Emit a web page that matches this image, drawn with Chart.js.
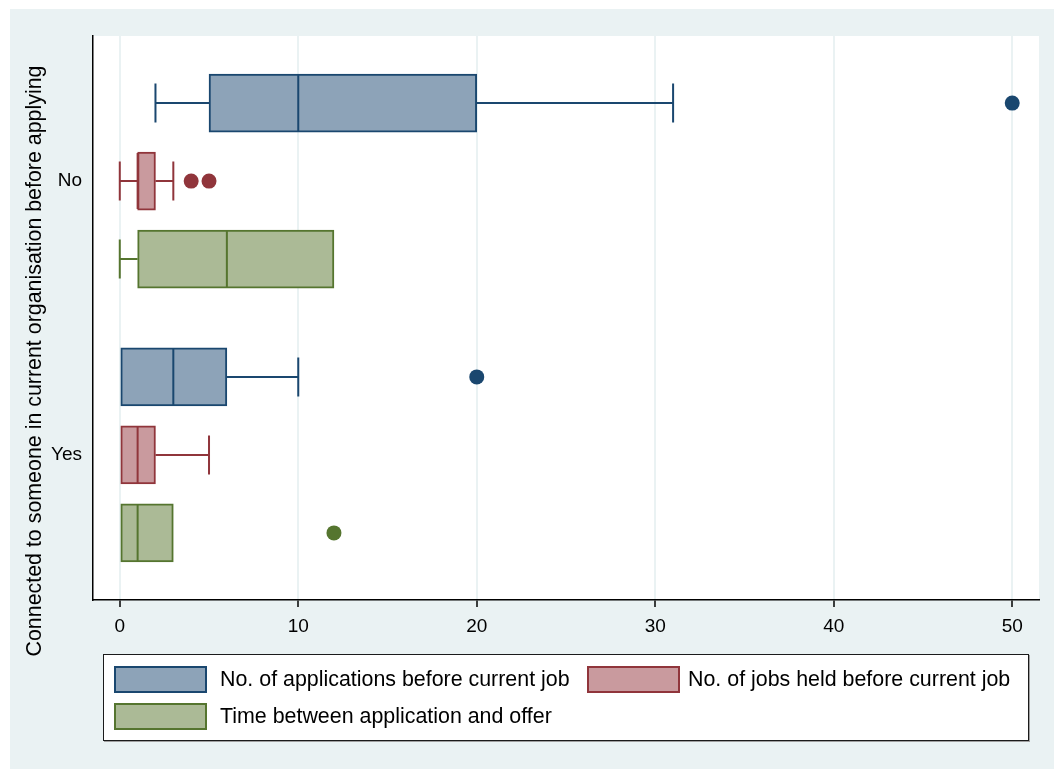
<!DOCTYPE html>
<html>
<head>
<meta charset="utf-8">
<title>Connected to someone in current organisation before applying</title>
<script src="https://cdn.jsdelivr.net/npm/chart.js@4.4.1/dist/chart.umd.min.js"></script>
<style>
  html, body { margin: 0; padding: 0; background: #ffffff; overflow: hidden; }
  #wrap { position: relative; width: 1054px; height: 769px; }
  #panel { position: absolute; left: 10px; top: 9px; right: 0; bottom: 0; background: #EAF2F3; }
  #box { position: absolute; left: 0; top: 0; width: 1054px; height: 769px; }
  #legend {
    position: absolute; left: 103px; top: 654px; width: 926px; height: 87px;
    box-sizing: border-box; background: #ffffff; border: 1.5px solid #1b1b1b;
    box-shadow: 1px 1px 0 #a0a0a0;
    font-family: 'Liberation Sans', Arial, sans-serif; font-size: 21.4px; color: #000;
  }
  .item { position: absolute; display: flex; align-items: center; height: 27px; white-space: nowrap; }
  .sw { width: 93px; height: 27px; box-sizing: border-box; border: 2px solid; flex: none; }
</style>
</head>
<body>
<div id="wrap">
  <div id="panel"></div>
  <div id="box"><canvas id="c"></canvas></div>
  <div id="legend"></div>
</div>
<script>
// Groups on the vertical axis
const groups = ['No', 'Yes'];

// Series names
const seriesLabels = [
  'No. of applications before current job',
  'No. of jobs held before current job',
  'Time between application and offer'
];

// Box-plot summaries, one value per group (No, Yes)
const appsLow      = [2, 0];
const appsQ1       = [5, 0];
const appsMedian   = [10, 3];
const appsQ3       = [20, 6];
const appsHigh     = [31, 10];
const appsOutliers = [[50], [20]];

const jobsLow      = [0, 0];
const jobsQ1       = [1, 0];
const jobsMedian   = [1, 1];
const jobsQ3       = [2, 2];
const jobsHigh     = [3, 5];
const jobsOutliers = [[4, 5], []];

const timeLow      = [0, 0];
const timeQ1       = [1, 0];
const timeMedian   = [6, 1];
const timeQ3       = [12, 3];
const timeHigh     = [12, 3];
const timeOutliers = [[], [12]];

// Horizontal axis tick values
const xTicks = [0, 10, 20, 30, 40, 50];

// ---- styling and layout ----
const lineColors = ['#1A476F', '#90353B', '#55752F'];
const fillColors = ['#8DA3B8', '#C99A9E', '#ABBA96'];
const groupCenters = [1.86, 5.37];   // vertical position of each group on the y scale
const seriesOffsets = [-1, 0, 1];   // offset of each series within its group
const BOX_PX = 58;
const CAP_PX = 39;

const summaries = [
  { low: appsLow, q1: appsQ1, med: appsMedian, q3: appsQ3, high: appsHigh, out: appsOutliers },
  { low: jobsLow, q1: jobsQ1, med: jobsMedian, q3: jobsQ3, high: jobsHigh, out: jobsOutliers },
  { low: timeLow, q1: timeQ1, med: timeMedian, q3: timeQ3, high: timeHigh, out: timeOutliers }
];

const boxPos = (gi, si) => groupCenters[gi] + seriesOffsets[si];
const FONT = "'Liberation Sans', Arial, sans-serif";

// Boxes: floating bars from Q1 to Q3
const boxSets = summaries.map((s, si) => ({
  type: 'bar',
  label: seriesLabels[si],
  data: groups.map((g, gi) => ({ y: boxPos(gi, si), x: [s.q1[gi], s.q3[gi]] })),
  backgroundColor: fillColors[si],
  borderColor: lineColors[si],
  borderWidth: 2,
  borderSkipped: false,
  barThickness: BOX_PX,
  grouped: false,
  order: 2
}));

// Outside values as dots
const outlierSets = summaries.map((s, si) => ({
  type: 'scatter',
  label: seriesLabels[si] + ' (outside values)',
  data: groups.flatMap((g, gi) => s.out[gi].map(v => ({ x: v, y: boxPos(gi, si) }))),
  backgroundColor: lineColors[si],
  borderColor: lineColors[si],
  pointRadius: 7.5,
  pointHoverRadius: 7.5,
  borderWidth: 0,
  order: 1
}));

// Whiskers, caps and median lines, placed through the chart scales
const whiskerPlugin = {
  id: 'whiskers',
  afterDatasetsDraw(chart) {
    const { ctx, scales: { x, y } } = chart;
    ctx.save();
    ctx.lineCap = 'butt';
    summaries.forEach((s, si) => {
      ctx.strokeStyle = lineColors[si];
      ctx.lineWidth = 2;
      groups.forEach((g, gi) => {
        const py = y.getPixelForValue(boxPos(gi, si));
        const pLow = x.getPixelForValue(s.low[gi]);
        const pQ1 = x.getPixelForValue(s.q1[gi]);
        const pMed = x.getPixelForValue(s.med[gi]);
        const pQ3 = x.getPixelForValue(s.q3[gi]);
        const pHigh = x.getPixelForValue(s.high[gi]);
        ctx.beginPath();
        if (s.low[gi] < s.q1[gi]) {
          ctx.moveTo(pLow, py); ctx.lineTo(pQ1, py);
          ctx.moveTo(pLow, py - CAP_PX / 2); ctx.lineTo(pLow, py + CAP_PX / 2);
        }
        if (s.high[gi] > s.q3[gi]) {
          ctx.moveTo(pQ3, py); ctx.lineTo(pHigh, py);
          ctx.moveTo(pHigh, py - CAP_PX / 2); ctx.lineTo(pHigh, py + CAP_PX / 2);
        }
        ctx.moveTo(pMed, py - BOX_PX / 2 + 1); ctx.lineTo(pMed, py + BOX_PX / 2 - 1);
        ctx.stroke();
      });
    });
    ctx.restore();
  }
};

// White plot region and the rotated y-axis title
const framePlugin = {
  id: 'frame',
  beforeDraw(chart) {
    const { ctx, chartArea: a } = chart;
    ctx.save();
    ctx.fillStyle = '#ffffff';
    ctx.fillRect(a.left, a.top, a.right - a.left, a.bottom - a.top);
    ctx.restore();
  },
  afterDraw(chart) {
    const { ctx } = chart;
    ctx.save();
    ctx.translate(35, 361);
    ctx.rotate(-Math.PI / 2);
    ctx.font = '21.4px ' + FONT;
    ctx.fillStyle = '#000000';
    ctx.textAlign = 'center';
    ctx.textBaseline = 'middle';
    ctx.fillText('Connected to someone in current organisation before applying', 0, 0);
    ctx.restore();
  }
};

new Chart(document.getElementById('c'), {
  type: 'bar',
  data: { datasets: [...boxSets, ...outlierSets] },
  options: {
    indexAxis: 'y',
    responsive: true,
    maintainAspectRatio: false,
    animation: false,
    events: [],
    layout: { padding: { top: 36, right: 15, left: 0, bottom: 0 } },
    plugins: { legend: { display: false }, tooltip: { enabled: false }, title: { display: false } },
    scales: {
      x: {
        type: 'linear',
        position: 'bottom',
        offset: false,
        min: -1.5,
        max: 51.5,
        afterBuildTicks: (scale) => { scale.ticks = xTicks.map(v => ({ value: v })); },
        afterFit: (scale) => { scale.height = 169; },
        grid: { color: '#EAF2F3', lineWidth: 2, tickColor: '#000000', tickLength: 7, tickWidth: 1.5, drawOnChartArea: true, offset: false },
        border: { display: true, color: '#000000', width: 1.5 },
        ticks: { color: '#000000', font: { family: FONT, size: 19 }, padding: 8, maxRotation: 0, autoSkip: false }
      },
      y: {
        type: 'linear',
        position: 'left',
        offset: false,
        reverse: true,
        min: 0,
        max: 7.23,
        afterBuildTicks: (scale) => { scale.ticks = groupCenters.map(v => ({ value: v })); },
        afterFit: (scale) => { scale.width = 93; },
        grid: { display: false, drawTicks: false, offset: false },
        border: { display: true, color: '#000000', width: 1.5 },
        ticks: {
          color: '#000000', font: { family: FONT, size: 19 }, padding: 11, autoSkip: false,
          callback: (value, index) => groups[index]
        }
      }
    }
  },
  plugins: [framePlugin, whiskerPlugin]
});

// Legend box
const legend = document.getElementById('legend');
const colX = [10, 483];
const colGap = [13, 8];
const rowY = [10.5, 47.5];
seriesLabels.forEach((label, i) => {
  const col = i % 2;
  const item = document.createElement('div');
  item.className = 'item';
  item.style.left = colX[col] + 'px';
  item.style.top = rowY[Math.floor(i / 2)] + 'px';
  const sw = document.createElement('span');
  sw.className = 'sw';
  sw.style.background = fillColors[i];
  sw.style.borderColor = lineColors[i];
  sw.style.marginRight = colGap[col] + 'px';
  const tx = document.createElement('span');
  tx.textContent = label;
  item.appendChild(sw);
  item.appendChild(tx);
  legend.appendChild(item);
});
</script>
</body>
</html>
